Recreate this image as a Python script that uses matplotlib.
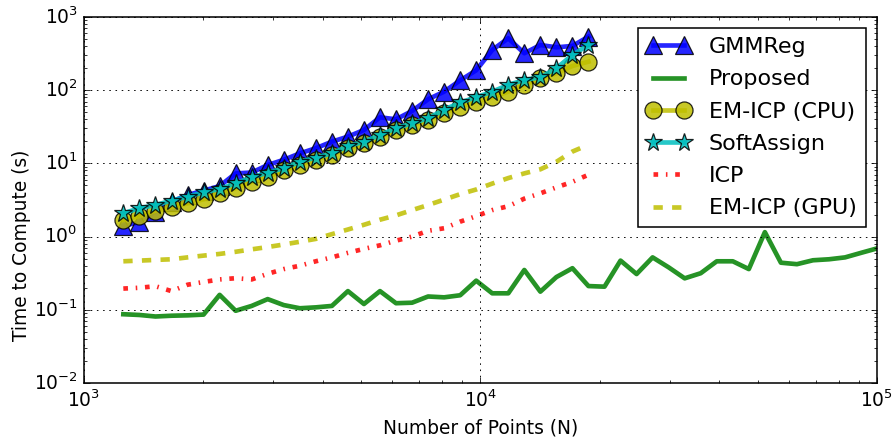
import matplotlib
matplotlib.use("Agg")
import matplotlib.pyplot as plt

plt.style.use("classic")
plt.rcParams["lines.scale_dashes"] = False

# number of points
n_pts = [1257, 1380, 1515, 1663, 1825, 2003, 2199, 2413, 2649, 2907,
         3191, 3503, 3844, 4220, 4632, 5084, 5580, 6125, 6723, 7379,
         8099, 8890, 9757, 10710, 11755, 12902, 14162, 15544, 17061, 18727,
         20555, 22561, 24763, 27180, 29833, 32745, 35941, 39449, 43300, 47526,
         52165, 57256, 62845, 68979, 75712, 83102, 91213, 100116]
n_short = n_pts[:30]

gmmreg = [1.40, 1.58, 2.19, 3.0, 3.7, 4.24, 4.9, 7.3, 7.5, 9.5,
          11.2, 13.7, 16.1, 19.8, 23.2, 28.6, 42.6, 40.0, 52.0, 75.0,
          95.5, 136, 187, 354, 512, 319, 414, 385, 402, 538]
proposed = [0.087, 0.085, 0.081, 0.083, 0.084, 0.086, 0.16, 0.097, 0.113, 0.14,
            0.116, 0.105, 0.108, 0.113, 0.18, 0.12, 0.18, 0.123, 0.125, 0.152,
            0.148, 0.158, 0.25, 0.168, 0.168, 0.35, 0.177, 0.28, 0.37, 0.211,
            0.207, 0.47, 0.308, 0.52, 0.38, 0.269, 0.316, 0.46, 0.46, 0.36,
            1.15, 0.44, 0.42, 0.475, 0.49, 0.52, 0.60, 0.69]
emicp_cpu = [1.69, 1.91, 2.26, 2.51, 2.85, 3.23, 3.90, 4.57, 5.62, 6.58,
             8.0, 9.6, 11.2, 13.2, 16.0, 19.0, 23.0, 28.5, 33.5, 39.5,
             49, 59.6, 69.7, 80, 95.5, 118, 146, 170, 214, 245]
softassign = [2.08, 2.44, 2.70, 3.10, 3.51, 4.03, 4.47, 5.35, 6.46, 7.46,
              8.6, 10.5, 12.0, 13.7, 17.2, 19.8, 24.4, 30.2, 35.3, 41.3,
              54, 68, 80, 95.5, 118, 138, 150, 199, 303, 414]
icp = [0.195, 0.20, 0.21, 0.18, 0.22, 0.24, 0.26, 0.27, 0.26, 0.31,
       0.36, 0.40, 0.46, 0.52, 0.60, 0.68, 0.76, 0.88, 1.0, 1.2,
       1.3, 1.6, 1.9, 2.3, 2.6, 3.3, 3.9, 4.7, 5.6, 7.0]
emicp_gpu = [0.46, 0.47, 0.48, 0.49, 0.52, 0.55, 0.58, 0.62, 0.67, 0.72,
             0.78, 0.85, 0.93, 1.08, 1.25, 1.45, 1.70, 1.95, 2.3, 2.7,
             3.2, 3.8, 4.4, 5.3, 6.3, 7.3, 8.3, 10.5, 14.5, 18]

fig = plt.figure(figsize=(893 / 111.625, 441 / 111.625), dpi=111.625, facecolor="white")
ax = fig.add_axes([0.094, 0.1315, 0.888, 0.83])

a = 0.85
ax.plot(n_short, gmmreg, color="b", lw=3, marker="^", ms=11, mec="k", mew=0.8, alpha=a, label="GMMReg")
ax.plot(n_pts, proposed, color="g", lw=3, alpha=a, label="Proposed")
ax.plot(n_short, emicp_cpu, color="y", lw=3, marker="o", ms=11, mec="k", mew=0.8, alpha=a, label="EM-ICP (CPU)")
ax.plot(n_short, softassign, color="c", lw=3, marker="*", ms=12, mec="k", mew=0.8, alpha=a, label="SoftAssign")
ax.plot(n_short, icp, color="r", lw=3, ls="-.", dashes=(3, 5, 1, 5), alpha=a, label="ICP")
ax.plot(n_short, emicp_gpu, color="y", lw=3, ls="--", dashes=(6, 6), alpha=a, label="EM-ICP (GPU)")

ax.set_xscale("log")
ax.set_yscale("log")
ax.set_xlim(1e3, 1e5)
ax.set_ylim(1e-2, 1e3)
ax.grid(True, which="major", color="k", ls=":", lw=0.6)
ax.set_xlabel("Number of Points (N)")
ax.set_ylabel("Time to Compute (s)")
ax.yaxis.set_label_coords(-0.067, 0.377)
ax.legend(loc="upper right", numpoints=2, fontsize="large", labelspacing=0.55)

fig.savefig("out.png", dpi=111.625, facecolor="white")
